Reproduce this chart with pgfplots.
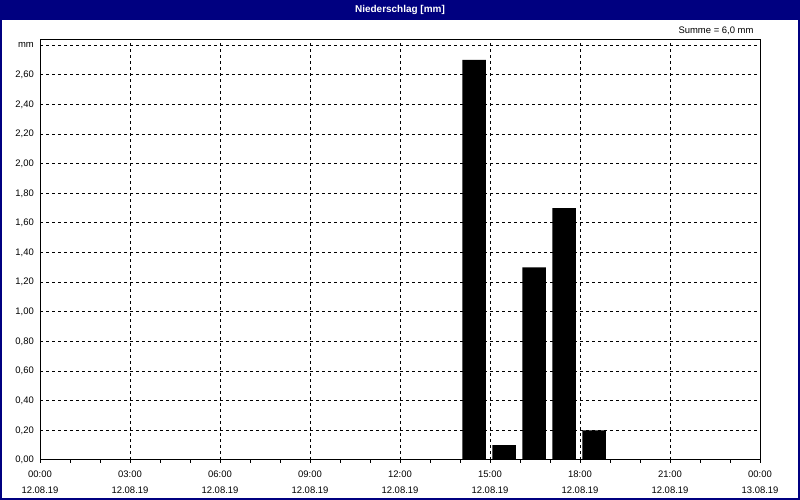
\documentclass[border=0pt]{standalone}
\usepackage{fontspec}
\setmainfont{Liberation Sans}
\usepackage{pgfplots}
\pgfplotsset{compat=1.18}
\definecolor{titlenavy}{HTML}{000080}

\begin{document}
\begin{tikzpicture}[x=1bp,y=1bp]
  % background, title bar, frame (1 px = 1 bp)
  \fill[white] (0,0) rectangle (800,500);
  \fill[titlenavy] (0,480) rectangle (800,500);
  \draw[titlenavy, line width=2bp] (1,1) rectangle (799,499);
  \node[text=white, font=\fontsize{10}{12}\selectfont\bfseries] at (400,490) {Niederschlag [mm]};
  \node[anchor=east, font=\fontsize{9.5}{11}\selectfont] at (757,469) {Summe = 6,0 mm};

  \begin{axis}[
      at={(40bp,40bp)}, anchor=origin,
      scale only axis,
      width=720bp, height=420bp,
      xmin=0, xmax=24,
      ymin=0, ymax=2.835,
      xtick={0,3,...,24},
      minor x tick num=2,
      xticklabels={{00:00\\12.08.19},{03:00\\12.08.19},{06:00\\12.08.19},{09:00\\12.08.19},
                   {12:00\\12.08.19},{15:00\\12.08.19},{18:00\\12.08.19},{21:00\\12.08.19},
                   {00:00\\13.08.19}},
      ytick={0,0.2,...,2.81},
      yticklabels={{0,00},{0,20},{0,40},{0,60},{0,80},{1,00},{1,20},{1,40},
                   {1,60},{1,80},{2,00},{2,20},{2,40},{2,60},mm},
      xticklabel style={align=center, font=\fontsize{9.5}{16}\selectfont, inner sep=0pt, yshift=-8bp},
      yticklabel style={font=\fontsize{9.5}{11}\selectfont, inner sep=0pt, xshift=-3bp},
      tick align=outside,
      xtick pos=bottom,
      ytick pos=left,
      major tick length=3bp,
      minor tick length=3bp,
      ytick style={draw=none},
      tick style={black, line width=1bp},
      xmajorgrids, ymajorgrids,
      grid style={black, line width=1bp, dash pattern=on 3bp off 3bp},
      axis line style={black, line width=1bp},
      axis on top,
    ]
    \addplot[ybar, bar width=0.78, fill=black, draw=none] coordinates {
      (14.47,2.7) (15.47,0.1) (16.47,1.3) (17.47,1.7) (18.47,0.2)
    };
  \end{axis}
  \pgfresetboundingbox
  \useasboundingbox (0,0) rectangle (800,500);
\end{tikzpicture}
\end{document}
